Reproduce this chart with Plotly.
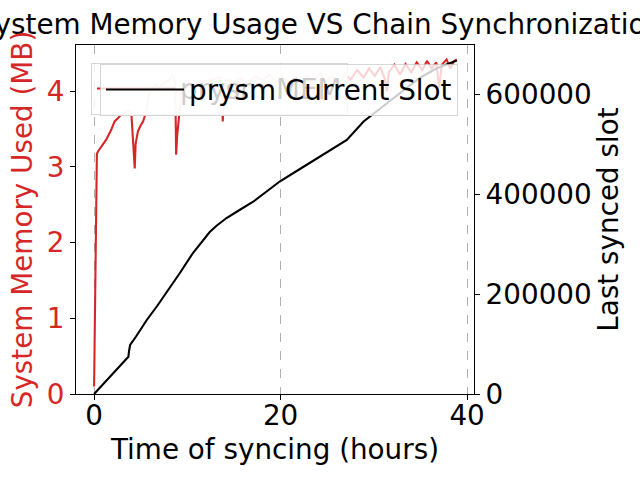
import plotly.graph_objects as go

# Memory series (hours, MB)
mem_hours = [0.0, 0.05, 0.1, 0.15, 0.2, 0.25, 0.3, 0.4, 0.8, 1.3, 1.8, 2.2, 2.6, 2.9, 3.3, 3.64, 3.9, 4.0,
             4.2, 4.36, 4.45, 4.7, 5.0, 5.25, 5.6, 5.8, 6.2, 6.5, 7.0, 7.4, 8.0, 8.5, 8.7, 8.8, 8.9, 9.2,
             9.35, 9.8, 10.5, 11.5, 12.5, 13.5, 13.7, 13.8, 13.9, 14.2, 15.0, 15.8, 16.5, 17.3, 18.0,
             18.8, 19.5, 20.3, 21.0, 21.6, 22.2, 22.8, 23.5, 24.2, 24.8, 25.5, 26.2, 26.9, 27.5, 28.2,
             28.9, 29.5, 30.1, 30.7, 31.2, 31.4, 31.6, 32.2, 32.8, 33.4, 34.0, 34.6, 35.2, 35.7, 36.2,
             36.7, 37.0, 37.3, 37.8, 38.2, 38.6, 38.9]
mem_mb = [0.1, 0.6, 1.4, 2.2, 2.8, 3.1, 3.17, 3.2, 3.27, 3.36, 3.48, 3.6, 3.65, 3.69, 3.72, 3.74, 3.72, 3.7,
          3.3, 2.98, 3.3, 3.47, 3.55, 3.6, 3.73, 3.93, 4.02, 4.08, 4.05, 4.1, 4.15, 4.21, 4.1, 3.16, 3.4, 3.73,
          3.97, 4.05, 4.1, 4.12, 4.15, 4.18, 4.0, 3.6, 3.95, 4.15, 4.12, 4.17, 4.1, 4.2, 4.14, 4.22, 4.12,
          4.18, 4.08, 4.2, 4.05, 4.22, 4.1, 4.25, 4.12, 4.2, 4.05, 4.24, 4.15, 4.28, 4.18, 4.3, 4.2, 4.32,
          4.15, 4.0, 4.25, 4.35, 4.22, 4.36, 4.25, 4.38, 4.28, 4.4, 4.3, 4.38, 4.05, 4.35, 4.42, 4.3, 4.4, 4.42]

# Slot series (hours, slot)
slot_hours = [0.0, 1.0, 2.0, 3.0, 3.68, 3.75, 3.86, 4.5, 5.65, 6.8, 7.97, 9.2, 10.6, 11.8, 12.4, 13.1,
              13.7, 14.2, 15.6, 17.1, 18.5, 19.9, 21.9, 23.9, 25.5, 27.1, 28.9, 31.4, 33.2, 34.9, 36.7,
              38.0, 38.9]
slot_values = [0, 20000, 40500, 61000, 74600, 86000, 98000, 115000, 148000, 177000, 208000, 242000,
               282000, 310000, 324000, 336000, 345000, 352000, 368000, 385000, 405000, 425000, 448000,
               471000, 488000, 508000, 545000, 581000, 608000, 632000, 651000, 660000, 667000]

x_ticks = [0, 20, 40]
y1_ticks = [0, 1, 2, 3, 4]
y2_ticks = [0, 200000, 400000, 600000]

RED = "#d62728"
FONT = "DejaVu Sans"
FS = 27.8

fig = go.Figure()
fig.add_trace(go.Scatter(x=mem_hours, y=mem_mb, mode="lines", name="prysm MEM",
                         line=dict(color=RED, width=2.1), xaxis="x", yaxis="y", legend="legend"))
fig.add_trace(go.Scatter(x=slot_hours, y=slot_values, mode="lines", name="prysm Current Slot",
                         line=dict(color="black", width=2.1), xaxis="x", yaxis="y2", legend="legend2"))

fig.update_layout(
    width=640, height=480,
    margin=dict(l=76, r=166, t=45, b=86, pad=0, autoexpand=False),
    paper_bgcolor="white", plot_bgcolor="white",
    font=dict(family=FONT, size=FS, color="black"),
    title=dict(text="System Memory Usage VS Chain Synchronization", x=0.5, xanchor="center",
               xref="container", yref="container", y=1-24/480, yanchor="middle", automargin=False,
               font=dict(size=FS, family=FONT, color="black")),
    xaxis=dict(range=[-1.94, 40.74], autorange=False, tickvals=x_ticks, ticks="outside", ticklen=5,
               tickwidth=1.1, tickcolor="black", showline=True, linecolor="black", linewidth=1.1,
               mirror=True, showgrid=True, gridcolor="#b0b0b0", griddash="dash", gridwidth=1.1,
               zeroline=False, automargin=False, ticklabelstandoff=-8,
               tickfont=dict(size=FS, color="black"),
               title=dict(text="Time of syncing (hours)", standoff=8, font=dict(size=FS))),
    yaxis=dict(range=[0, 4.61], autorange=False, anchor="x", side="left", tickvals=y1_ticks,
               ticks="outside", ticklen=5, tickwidth=1.1,
               tickcolor="black", showline=True, linecolor="black", linewidth=1.1,
               showgrid=False, zeroline=False, automargin=False, tickfont=dict(size=FS, color=RED),
               title=dict(text="System Memory Used (MB)", standoff=5, font=dict(size=FS, color=RED))),
    yaxis2=dict(range=[0, 698000], autorange=False, tickvals=y2_ticks, tickformat="d", overlaying="y",
                side="right", anchor="x",
                ticks="outside", ticklen=5, tickwidth=1.1, tickcolor="black", showline=True,
                linecolor="black", linewidth=1.1, showgrid=False, zeroline=False, automargin=False,
                tickfont=dict(size=FS, color="black"),
                title=dict(text="Last synced slot", standoff=4, font=dict(size=FS))),
    legend=dict(x=(91-76)/398, y=1-18/349, xanchor="left", yanchor="top",
                bgcolor="rgba(255,255,255,0.8)", bordercolor="rgba(204,204,204,0.8)", borderwidth=1,
                font=dict(size=FS, color="black"), itemwidth=78),
    legend2=dict(x=(100-76)/398, y=1-19/349, xanchor="left", yanchor="top",
                 bgcolor="rgba(255,255,255,0.8)", bordercolor="rgba(204,204,204,0.8)", borderwidth=1,
                 font=dict(size=FS, color="black"), itemwidth=78),
    showlegend=True,
)

fig.write_html("out.html", config={"displayModeBar": False},
               post_script="document.body.style.margin='0';document.body.style.padding='0';")
